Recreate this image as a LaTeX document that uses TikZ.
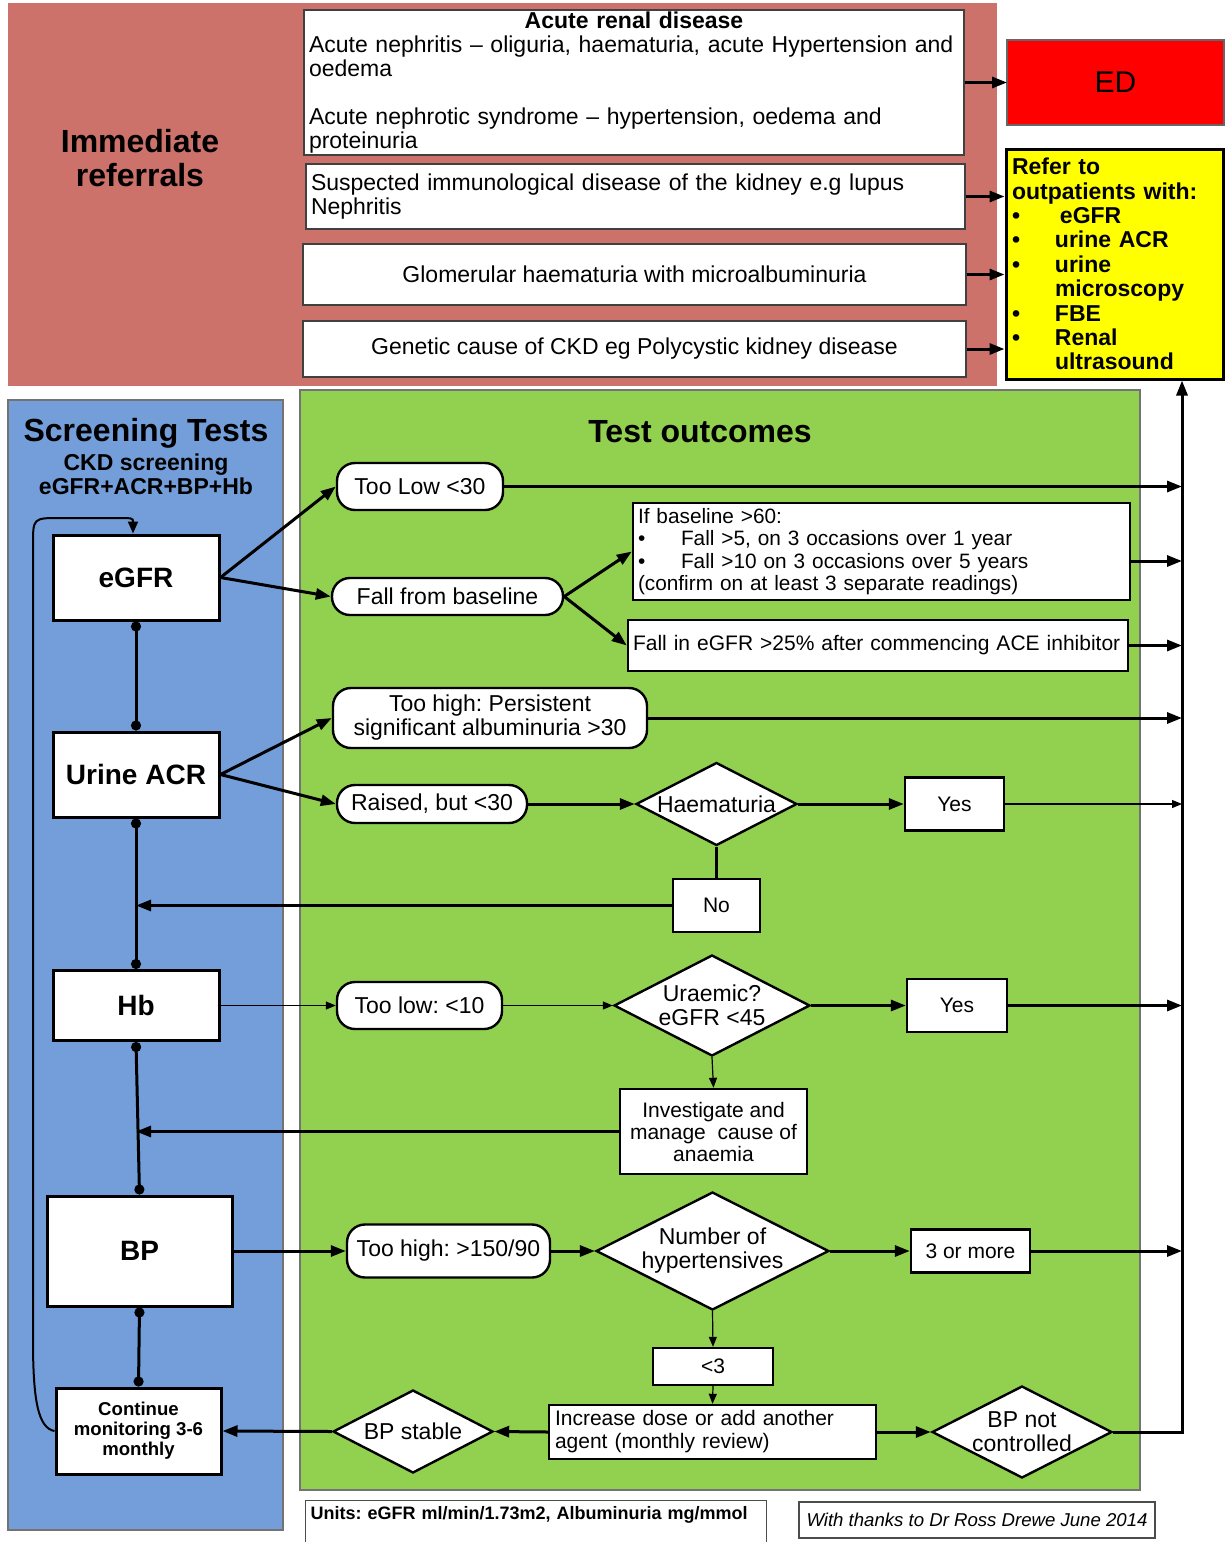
\documentclass[tikz,border=0pt]{standalone}
\usepackage{fontspec}
\setmainfont{Liberation Sans}
\usepackage{xcolor}
\usetikzlibrary{shapes.geometric, arrows.meta, positioning, calc}

\definecolor{referralred}{RGB}{205,113,107}
\definecolor{screenblue}{RGB}{115,158,218}
\definecolor{outcomegreen}{RGB}{146,208,80}
\definecolor{edred}{RGB}{255,0,0}
\definecolor{referyellow}{RGB}{255,255,0}

\newcommand{\referitem}[1]{\makebox[21.5pt][l]{\textbullet}#1}
\newcommand{\ruleitem}[1]{\makebox[21.5pt][l]{\textbullet}#1}

\begin{document}
\frenchspacing
\begin{tikzpicture}[
    x=0.5pt, y=-0.5pt,
    font=\fontsize{11.5pt}{12pt}\selectfont,
    % styles
    panel/.style={inner sep=0pt, outer sep=0pt},
    heading/.style={font=\fontsize{16pt}{17pt}\selectfont\bfseries, align=center},
    referral_box/.style={
        draw=black!75, line width=0.9pt, fill=white, inner xsep=2.5pt, inner ysep=0pt, align=left
    },
    refer_list/.style={
        draw, line width=1.5pt, fill=referyellow, inner xsep=3pt, inner ysep=0pt, align=left,
        font=\fontsize{11.5pt}{12.2pt}\selectfont\bfseries
    },
    test_box/.style={
        draw, line width=1.5pt, fill=white, inner sep=0pt, align=center,
        font=\fontsize{14pt}{16pt}\selectfont\bfseries
    },
    outcome/.style={
        draw, line width=1.2pt, fill=white, rounded corners=9pt, inner sep=0pt, align=center
    },
    result_box/.style={
        draw, line width=1.2pt, fill=white, inner sep=0pt, align=center,
        font=\fontsize{10.5pt}{11pt}\selectfont
    },
    decision/.style={
        diamond, aspect=2, draw, line width=1.2pt, fill=white, inner sep=0pt, align=center
    },
    flow/.style={-{Triangle[length=7.5pt,width=5.5pt]}, line width=1.5pt},
    thin_flow/.style={-{Triangle[length=5pt,width=4pt]}, line width=0.6pt},
    link/.style={{Circle[length=5pt]}-{Circle[length=5pt]}, line width=1.5pt},
    loop_back/.style={-{Triangle[length=6pt,width=5pt]}, line width=1pt}
]
    \useasboundingbox[fill=white] (0,0) rectangle (1225,1542);

    % --- 1. IMMEDIATE REFERRALS (Top) ---
    \node[panel, fill=referralred, minimum width=494.5pt, minimum height=191.5pt] (referral_panel) at (502.5,194.5) {};
    \node[heading] (referral_title) at (140,158) {Immediate\\referrals};

    \node[referral_box, minimum width=330pt, minimum height=72.5pt, text width=325pt] (acute_box) at (634,82.5) {
        \makebox[\linewidth]{\bfseries Acute renal disease}\\
        Acute nephritis -- oliguria, haematuria, acute Hypertension and\\
        oedema\\[12pt]
        Acute nephrotic syndrome -- hypertension, oedema and\\
        proteinuria
    };
    \node[referral_box, minimum width=329.5pt, minimum height=32.5pt, text width=324.5pt] (immuno_box) at (635.5,196.5) {
        Suspected immunological disease of the kidney e.g lupus\\
        Nephritis
    };
    \node[referral_box, minimum width=331.5pt, minimum height=30.5pt, align=center] (glom_box) at (634.5,274.5) {Glomerular haematuria with microalbuminuria};
    \node[referral_box, minimum width=331.5pt, minimum height=28pt, align=center] (genetic_box) at (634.5,349) {Genetic cause of CKD eg Polycystic kidney disease};

    % Destinations
    \node[panel, draw=black!60, line width=0.6pt, fill=edred, minimum width=108.5pt, minimum height=42.5pt,
        font=\fontsize{15pt}{16pt}\selectfont] (ed_box) at (1115.5,82.5) {ED};
    \node[refer_list, minimum width=108.5pt, minimum height=115pt, text width=102.5pt] (outpatients) at (1114.5,264) {
        Refer to\\
        outpatients with:\\
        \referitem{\hspace{2.5pt}eGFR}\\
        \referitem{urine ACR}\\
        \referitem{urine}\\
        \hspace*{21.5pt}microscopy\\
        \referitem{FBE}\\
        \referitem{Renal}\\
        \hspace*{21.5pt}ultrasound
    };

    \draw[flow] (acute_box) -- (ed_box);
    \draw[flow] (immuno_box.east) -- (immuno_box.east -| outpatients.west);
    \draw[flow] (glom_box.east) -- (glom_box.east -| outpatients.west);
    \draw[flow] (genetic_box.east) -- (genetic_box.east -| outpatients.west);

    % --- 2. PANELS ---
    \node[panel, draw=black!55, line width=0.6pt, fill=screenblue, minimum width=137.5pt, minimum height=565pt] (screen_panel) at (145.5,965) {};
    \node[panel, draw=black!55, line width=0.6pt, fill=outcomegreen, minimum width=420pt, minimum height=550pt] (outcome_panel) at (720,940) {};
    \node[heading] (screen_title) at (146,433) {Screening Tests};
    \node[font=\fontsize{11.5pt}{12pt}\selectfont\bfseries, align=center] (screen_sub) at (146,474) {CKD screening\\eGFR+ACR+BP+Hb};
    \node[heading] (outcome_title) at (700,432) {Test outcomes};

    % --- 3. SCREENING TESTS (Left) ---
    \node[test_box, minimum width=83pt, minimum height=42.5pt] (egfr) at (136,577.5) {eGFR};
    \node[test_box, minimum width=83pt, minimum height=42.5pt] (urine_acr) at (136,774.5) {Urine ACR};
    \node[test_box, minimum width=83pt, minimum height=35pt] (hb) at (136,1005.5) {Hb};
    \node[test_box, minimum width=92.5pt, minimum height=55pt] (bp) at (139.5,1251) {BP};
    \node[test_box, minimum width=82.5pt, minimum height=43pt,
        font=\fontsize{9.3pt}{10pt}\selectfont\bfseries] (monitor) at (138.5,1431) {Continue\\monitoring 3-6\\monthly};

    \draw[link] (egfr.south) -- (urine_acr.north);
    \draw[link] (urine_acr.south) -- (hb.north);
    \draw[link] (hb.south) -- (bp.north);
    \draw[link] (bp.south) -- (monitor.north);

    % back to the start
    \draw[loop_back] (monitor.west) .. controls (38,1428) and (33,1400) .. (33,1340) -- (33,545)
        .. controls (33,518) .. (60,518) -- (115,518) .. controls (133,518) .. ([xshift=-1.5pt]egfr.north);

    % --- 4. TEST OUTCOMES (Middle) ---
    % eGFR
    \node[outcome, minimum width=83pt, minimum height=23.5pt] (too_low) at (420,486.5) {Too Low <30};
    \node[outcome, minimum width=115.5pt, minimum height=18.5pt] (fall_base) at (447.5,596.5) {Fall from baseline};
    \node[result_box, align=left, minimum width=248.5pt, minimum height=48.5pt, text width=243.5pt, inner xsep=2.5pt,
        font=\fontsize{10.4pt}{11.2pt}\selectfont] (baseline_rule) at (881.5,551.5) {
        If baseline >60:\\
        \ruleitem{Fall >5, on 3 occasions over 1 year}\\
        \ruleitem{Fall >10 on 3 occasions over 5 years}\\
        (confirm on at least 3 separate readings)
    };
    \node[result_box, align=left, minimum width=250pt, minimum height=25.5pt, text width=245pt, inner xsep=2.5pt] (ace_rule) at (878,645.5) {Fall in eGFR >25\% after commencing ACE inhibitor};

    \draw[flow] (egfr.east) -- (too_low.west);
    \draw[flow] (egfr.east) -- (fall_base.west);
    \draw[flow] (fall_base.east) -- (baseline_rule.west);
    \draw[flow] (fall_base.east) -- (ace_rule.west);

    % Urine ACR
    \node[outcome, minimum width=157pt, minimum height=30pt] (too_high_acr) at (490,718) {Too high: Persistent\\significant albuminuria >30};
    \node[outcome, minimum width=95pt, minimum height=19pt] (raised_acr) at (432,804) {Raised, but <30};
    \node[decision, minimum width=80.5pt, minimum height=41.5pt] (haematuria) at (716.5,804) {Haematuria};
    \node[result_box, minimum width=49.5pt, minimum height=26.5pt] (haem_yes) at (954.5,804) {Yes};
    \node[result_box, minimum width=43.5pt, minimum height=26.5pt] (haem_no) at (716.5,905.5) {No};

    \draw[flow] (urine_acr.east) -- (too_high_acr.west);
    \draw[flow] (urine_acr.east) -- (raised_acr.west);
    \draw[flow] (raised_acr.east) -- (haematuria.west);
    \draw[flow] (haematuria.east) -- (haem_yes.west);
    \draw[line width=1.5pt] (haematuria.south) -- (haem_no.north);
    \draw[flow] (haem_no.west) -- (haem_no.west -| urine_acr.south);

    % Hb
    \node[outcome, minimum width=82.5pt, minimum height=23.5pt] (too_low_hb) at (419.5,1005.5) {Too low: <10};
    \node[decision, minimum width=98pt, minimum height=50.5pt] (uraemic) at (712,1005.5) {Uraemic?\\eGFR <45};
    \node[result_box, minimum width=50pt, minimum height=26.5pt] (uraemic_yes) at (957,1005.5) {Yes};
    \node[result_box, minimum width=93.5pt, minimum height=42.5pt] (investigate) at (713.5,1131.5) {Investigate and\\manage\ \ cause of\\anaemia};

    \draw[thin_flow] (hb.east) -- (too_low_hb.west);
    \draw[thin_flow] (too_low_hb.east) -- (uraemic.west);
    \draw[flow] (uraemic.east) -- (uraemic_yes.west);
    \draw[thin_flow] (uraemic.south) -- (investigate.north);
    \draw[flow] (investigate.west) -- (investigate.west -| hb.south);

    % BP
    \node[outcome, minimum width=101.5pt, minimum height=26.5pt] (too_high_bp) at (448.5,1251) {Too high: >150/90};
    \node[decision, minimum width=107.5pt, minimum height=59pt] (hypertensives) at (712.5,1251) {Number of\\hypertensives};
    \node[result_box, minimum width=59.5pt, minimum height=21.5pt] (three_more) at (970.5,1251) {3 or more};
    \node[result_box, minimum width=60pt, minimum height=18.5pt] (under_three) at (713,1366.5) {<3};
    \node[result_box, align=left, minimum width=163.5pt, minimum height=27pt, text width=157.5pt, inner xsep=3pt,
        font=\fontsize{10.5pt}{11.5pt}\selectfont] (increase_dose) at (712.5,1432) {Increase dose or add another\\agent (monthly review)};
    \node[decision, minimum width=90pt, minimum height=46pt, inner sep=-3pt] (bp_uncontrolled) at (1022,1432) {BP not\\controlled};
    \node[decision, minimum width=80pt, minimum height=41.5pt] (bp_stable) at (413,1431.5) {BP stable};

    \draw[flow] (bp.east) -- (too_high_bp.west);
    \draw[flow] (too_high_bp.east) -- (hypertensives.west);
    \draw[flow] (hypertensives.east) -- (three_more.west);
    \draw[thin_flow] (hypertensives.south) -- (under_three.north);
    \draw[thin_flow] (under_three.south) -- (increase_dose.north);
    \draw[flow] (increase_dose.east) -- (bp_uncontrolled.west);
    \draw[flow] (increase_dose.west) -- (bp_stable.east);
    \draw[flow] (bp_stable.west) -- (monitor.east);

    % --- 5. REFERRAL BUS (Right) ---
    \coordinate (bus_bottom) at (1182,1432);
    \coordinate (rule_out) at ([yshift=-4.75pt]baseline_rule.east);
    \draw[flow] (too_low.east) -- (too_low.east -| bus_bottom);
    \draw[flow] (rule_out) -- (rule_out -| bus_bottom);
    \draw[flow] (ace_rule.east) -- (ace_rule.east -| bus_bottom);
    \draw[flow] (too_high_acr.east) -- (too_high_acr.east -| bus_bottom);
    \draw[thin_flow] (haem_yes.east) -- (haem_yes.east -| bus_bottom);
    \draw[flow] (uraemic_yes.east) -- (uraemic_yes.east -| bus_bottom);
    \draw[flow] (three_more.east) -- (three_more.east -| bus_bottom);
    \draw[flow] (bp_uncontrolled.east) -- (bus_bottom) -- (bus_bottom |- outpatients.south);

    % --- 6. NOTES (Bottom) ---
    \node[draw=black!70, line width=0.6pt, anchor=north west, text width=225.5pt, inner xsep=2.5pt, inner ysep=3pt,
        text depth=16pt, align=left, font=\fontsize{9pt}{10pt}\selectfont\bfseries] (units_note) at (305,1500) {Units: eGFR ml/min/1.73m2, Albuminuria mg/mmol};
    \node[draw=black!70, line width=0.6pt, minimum width=178pt, minimum height=18pt, inner sep=0pt,
        font=\fontsize{9.3pt}{10pt}\selectfont\itshape] (thanks_note) at (977,1520) {With thanks to Dr Ross Drewe June 2014};

\end{tikzpicture}
\end{document}
